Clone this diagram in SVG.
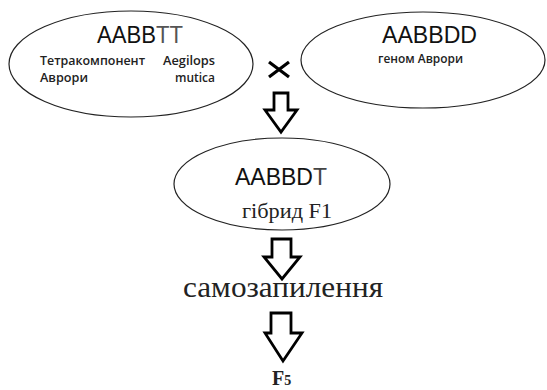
<svg xmlns="http://www.w3.org/2000/svg" width="547" height="390" viewBox="0 0 547 390">
<style>
.ell{fill:#fff;stroke:#222;stroke-width:1.2}
.arr{fill:#fff;stroke:#000;stroke-width:2.8;stroke-linejoin:miter}
.big{font-family:"Liberation Sans",Arial,sans-serif;font-size:23px;fill:#111}
.sm{font-family:"Open Sans","Liberation Sans",Arial,sans-serif;font-size:12px;font-weight:600;fill:#222}
.ser{font-family:"Liberation Serif","Times New Roman",serif;fill:#222}
</style>
<rect width="547" height="390" fill="#fff"/>
<g id="node-aabbtt">
<ellipse class="ell" cx="131" cy="64" rx="122" ry="53"/>
<text class="big" x="97" y="43" textLength="86" lengthAdjust="spacingAndGlyphs">AABB<tspan fill="#555">TT</tspan></text>
<text class="sm" x="40" y="65" textLength="105" lengthAdjust="spacingAndGlyphs">Тетракомпонент</text>
<text class="sm" x="163" y="65" textLength="52" lengthAdjust="spacingAndGlyphs">Aegilops</text>
<text class="sm" x="40" y="82" textLength="48" lengthAdjust="spacingAndGlyphs">Аврори</text>
<text class="sm" x="215" y="82" text-anchor="end" textLength="40" lengthAdjust="spacingAndGlyphs">mutica</text>
</g>
<g id="node-aabbdd">
<ellipse class="ell" cx="423" cy="60" rx="122" ry="48"/>
<text class="big" x="382" y="43" textLength="95" lengthAdjust="spacingAndGlyphs">AABBDD</text>
<text class="sm" x="378" y="63" font-size="11" textLength="85" lengthAdjust="spacingAndGlyphs">геном Аврори</text>
</g>
<g id="node-aabbdt">
<ellipse class="ell" cx="282" cy="184" rx="108" ry="46"/>
<text class="big" x="235" y="185" textLength="92" lengthAdjust="spacingAndGlyphs">AABBD<tspan fill="#444">T</tspan></text>
<text class="ser" x="242" y="218" font-size="20" textLength="90" lengthAdjust="spacingAndGlyphs">гібрид F1</text>
</g>
<g id="node-self">
<text class="ser" x="183" y="297" font-size="29" fill="#111" textLength="200" lengthAdjust="spacingAndGlyphs">самозапилення</text>
</g>
<g id="node-f5">
<text class="ser" x="272" y="385" font-size="20" font-weight="bold" fill="#444">F<tspan font-size="14">5</tspan></text>
</g>
<g id="connectors">
<path d="M269 62 L289 77 M289 62 L269 77" stroke="#000" stroke-width="3.2" fill="none"/>
<path class="arr" d="M274 93 H288 V110 H297 L281 132 L265 110 H274 Z"/>
<path class="arr" d="M272 239 H291 V257 H300 L282 279 L264 257 H272 Z"/>
<path class="arr" d="M271 313 H291 V333 H302 L283 361 L265 333 H271 Z"/>
</g>
</svg>
